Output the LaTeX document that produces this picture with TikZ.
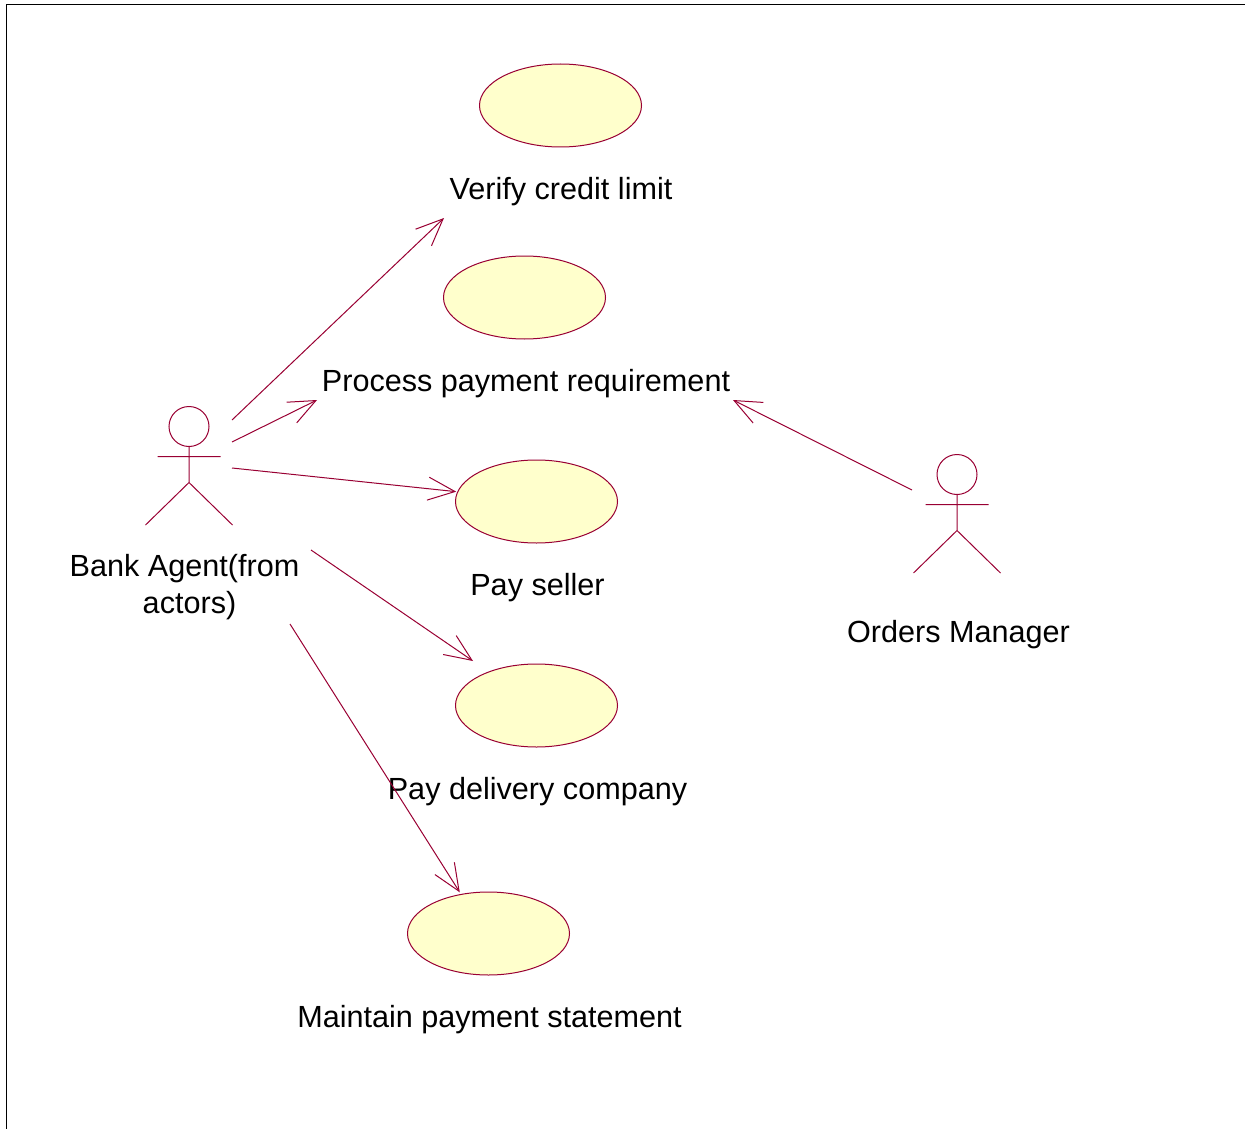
\documentclass[tikz,border=0pt]{standalone}
\usepackage{fontspec}
\setmainfont{Liberation Sans}
\usetikzlibrary{arrows.meta}
\usetikzlibrary{shapes.geometric}
\definecolor{usefill}{RGB}{255,255,204}
\definecolor{useline}{RGB}{153,0,51}
\tikzset{x = 1pt, y = -1pt,
  usecase/.style = {draw = useline, fill = usefill, line width = 1pt, ellipse, minimum width = 162pt, minimum height = 83pt, inner sep = 0pt},
  usetext/.style = {font = \fontsize{30.6}{37}\selectfont, align = center, inner sep = 0pt},
  link/.style = {draw = useline, line width = 1pt},
  flow/.style = {link, -{Straight Barb[length = 27pt, width = 23pt, line width = 1pt]}}}

\begin{document}
\begin{tikzpicture}
  \useasboundingbox (0, 0) rectangle (1245, 1129);
  \draw [line width = 1.1pt] (6.8, 1129) -- (6.8, 4.5) -- (1245, 4.5);
  % use cases
  \foreach \name/\x/\y in {verify/560.5/105.5, process/524.5/297.5, seller/536.5/501.5, delivery/536.5/705.5, statement/488.5/933.5} {
    \node [usecase] (\name) at (\x, \y) {};
  }
  % labels
  \node [usetext] (verifytext) at (561, 191.5) {Verify credit limit};
  \node [usetext] (processtext) at (526, 383.5) {Process payment requirement};
  \node [usetext] (sellertext) at (537.5, 587.5) {Pay seller};
  \node [usetext] (deliverytext) at (537.5, 791.5) {Pay delivery company};
  \node [usetext] (statementtext) at (489.5, 1019.5) {Maintain payment statement};
  \node [usetext] (agenttext) at (184.5, 587.5) {Bank Agent(from\\\hspace*{10pt}actors)};
  \node [usetext] (managertext) at (958.5, 634.5) {Orders Manager};
  % actors
  \foreach \who/\x/\y in {agent/189/426.5, manager/957/474.5} {
    \node [link, circle, minimum size = 40pt, inner sep = 0pt] (\who) at (\x, \y) {};
    \coordinate (\who hip) at (\x, \y + 56);
    \coordinate (\who arml) at (\x - 31.5, \y + 30);
    \coordinate (\who armr) at (\x + 31.5, \y + 30);
    \coordinate (\who legl) at (\x - 43.5, \y + 98.5);
    \coordinate (\who legr) at (\x + 43.5, \y + 98.5);
    \draw [link] (\who) -- (\who hip) (\who arml) -- (\who armr) (\who legl) -- (\who hip) -- (\who legr);
  }
  % arrows
  \coordinate (a1) at (232, 420);
  \coordinate (b1) at (444, 218);
  \coordinate (a2) at (232, 442);
  \coordinate (b2) at (317, 400);
  \coordinate (a3) at (232, 468);
  \coordinate (a4) at (311, 550);
  \coordinate (b4) at (473, 661);
  \coordinate (a5) at (290, 624);
  \coordinate (a6) at (912, 490);
  \coordinate (b6) at (733, 400);
  \draw [flow] (a1) -- (b1);
  \draw [flow] (a2) -- (b2);
  \draw [flow, shorten > = 1pt] (a3) -- (seller.173);
  \draw [flow] (a4) -- (b4);
  \draw [flow, shorten > = 2pt] (a5) -- (statement.125);
  \draw [flow] (a6) -- (b6);
\end{tikzpicture}
\end{document}
